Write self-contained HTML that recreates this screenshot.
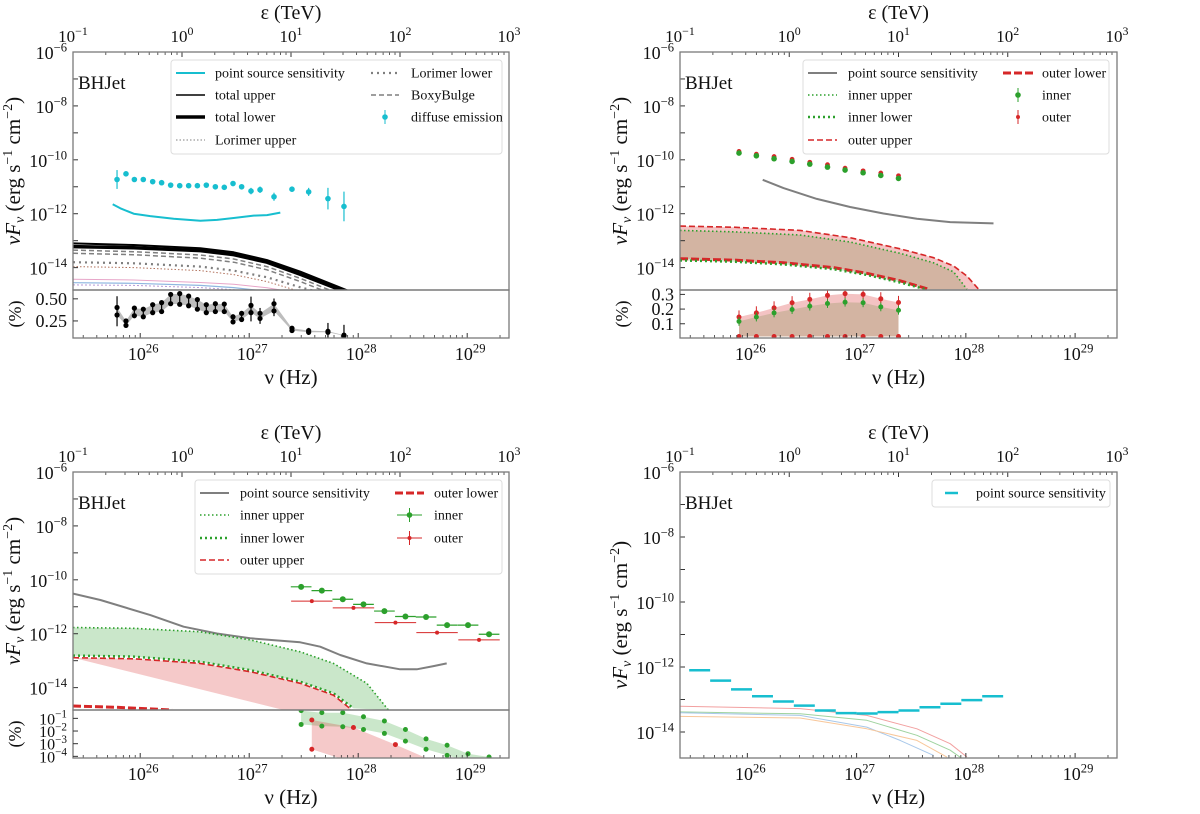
<!DOCTYPE html>
<html><head><meta charset="utf-8">
<style>
body{margin:0;background:#fff}
svg{display:block;font-family:"Liberation Serif",serif}
</style></head>
<body>
<svg id="fig" width="1200" height="814" viewBox="0 0 1200 814"><defs id="defs"></defs></svg>
<script>
// ---------- shared tick data ----------
const eTicks=[-1,0,1,2,3];
const nuTicks=[26,27,28,29];
const yTickLabels=[-6,-8,-10,-12,-14];

// ---------- top-left panel data (log10 E[TeV], log10 F) ----------
const tlDiffE=[-0.596,-0.514,-0.437,-0.355,-0.269,-0.187,-0.104,-0.021,0.061,0.141,0.223,0.306,0.388,0.468,0.547,0.633,0.716,0.844,1.009,1.162,1.339,1.486];
const tlDiffF=[-10.73,-10.52,-10.73,-10.73,-10.81,-10.85,-10.94,-10.96,-10.96,-10.96,-10.94,-11.0,-11.02,-10.88,-11.0,-11.16,-11.11,-11.37,-11.09,-11.19,-11.44,-11.73];
const tlDiffErr=[0.35,0.04,0.04,0.04,0.04,0.04,0.04,0.04,0.04,0.04,0.04,0.04,0.04,0.04,0.04,0.12,0.12,0.15,0.1,0.15,0.4,0.55];
const tlSensE=[-0.636,-0.566,-0.443,-0.291,-0.076,0.168,0.321,0.474,0.657,0.780,0.902];
const tlSensF=[-11.65,-11.80,-12.0,-12.09,-12.19,-12.26,-12.23,-12.16,-12.07,-12.05,-11.96];
const tlModelE=[-1,-0.443,0.168,0.474,0.780,1.086,1.391,1.544];
const tlTotUp=[-13.10,-13.16,-13.28,-13.43,-13.72,-14.15,-14.64,-14.89];
const tlTotLo=[-13.22,-13.26,-13.37,-13.52,-13.80,-14.25,-14.73,-14.95];
const tlBoxA=[-13.35,-13.41,-13.53,-13.68,-13.96,-14.40,-14.89];
const tlBoxB=[-13.47,-13.52,-13.65,-13.80,-14.08,-14.52,-15.0];
const tlLorLoE=[-1,-0.443,0.168,0.474,0.780,1.086,1.300];
const tlLorLo=[-13.80,-13.84,-13.96,-14.11,-14.36,-14.73,-14.95];
const tlLorUpE=[-1,-0.443,0.168,0.474,0.780,1.086];
const tlLorUp=[-13.96,-14.0,-14.11,-14.26,-14.52,-14.89];
const tlFaintE=[-1,-0.443,0.168,0.474,0.780,1.086];
const tlFaintPink=[-14.43,-14.46,-14.55,-14.62,-14.75,-14.95];
const tlFaintBlue=[-14.56,-14.58,-14.66,-14.74,-14.88,-15.1];
const tlFaintPurple=[-14.64,-14.66,-14.74,-14.82,-14.95,-15.2];
const tlRatUp=[0.402,0.25,0.395,0.383,0.434,0.457,0.55,0.559,0.531,0.492,0.434,0.445,0.441,0.297,0.336,0.426,0.336,0.445,0.168,0.141,0.133,0.09];
const tlRatLo=[0.317,0.20,0.309,0.297,0.344,0.356,0.445,0.438,0.422,0.383,0.344,0.356,0.356,0.239,0.266,0.344,0.278,0.363,0.141,0.122,0.122,0.082];
const tlRatErr=[0.17,0.04,0.06,0.06,0.06,0.06,0.06,0.06,0.06,0.06,0.06,0.06,0.06,0.04,0.05,0.14,0.09,0.1,0.02,0.04,0.1,0.12];

// ---------- top-right panel data ----------
const trPtE=[-0.460,-0.301,-0.139,0.026,0.188,0.350,0.511,0.676,0.838,1.0];
const trOuterF=[-9.69,-9.79,-9.88,-9.98,-10.09,-10.18,-10.31,-10.41,-10.49,-10.59];
const trInnerF=[-9.75,-9.85,-9.96,-10.06,-10.16,-10.27,-10.38,-10.48,-10.58,-10.69];
const trSensE=[-0.243,-0.053,0.252,0.557,0.863,1.168,1.473,1.870];
const trSensF=[-10.74,-11.05,-11.45,-11.75,-11.99,-12.19,-12.31,-12.36];
const trOutUpE=[-1,-0.511,0.099,0.557,1.015,1.321,1.504,1.626,1.733];
const trOutUp=[-12.46,-12.50,-12.62,-12.89,-13.30,-13.63,-13.94,-14.31,-14.80];
const trInUpE=[-1,-0.511,0.099,0.557,1.015,1.321,1.504,1.626];
const trInUp=[-12.62,-12.67,-12.79,-13.05,-13.47,-13.82,-14.16,-14.80];
const trOutLoE=[-1,-0.511,-0.053,0.405,0.710,1.015,1.275];
const trOutLo=[-13.67,-13.72,-13.82,-14.0,-14.21,-14.49,-14.80];
const trInLoE=[-1,-0.511,-0.053,0.405,0.710,1.015,1.245];
const trInLo=[-13.73,-13.78,-13.88,-14.06,-14.27,-14.55,-14.80];
const trRatOuter=[0.146,0.174,0.208,0.243,0.266,0.293,0.305,0.30,0.27,0.245];
const trRatInner=[0.116,0.146,0.174,0.197,0.22,0.238,0.247,0.243,0.215,0.192];
const trRatBase=[0.013,0.013,0.013,0.013,0.013,0.013,0.013,0.013,0.013,0.013];

// ---------- bottom-left panel data ----------
const blSensE=[-1,-0.749,-0.291,0.015,0.320,0.626,1.084,1.268,1.451,1.695,2.001,2.154,2.307,2.428];
const blSensF=[-10.51,-10.75,-11.31,-11.74,-11.99,-12.17,-12.32,-12.48,-12.79,-13.10,-13.32,-13.32,-13.20,-13.10];
const blInUpE=[-1,-0.444,0.167,0.626,1.084,1.390,1.695,1.894];
const blInUp=[-11.77,-11.80,-11.93,-12.23,-12.67,-13.10,-13.84,-14.83];
const blInLoE=[-1,-0.444,0.167,0.626,1.084,1.390,1.573];
const blInLo=[-12.81,-12.85,-13.04,-13.35,-13.78,-14.21,-14.77];
const blOutUpE=[-1,-0.444,0.167,0.626,1.084,1.390,1.558];
const blOutUp=[-12.89,-12.93,-13.10,-13.41,-13.84,-14.28,-14.83];
const blOutLoE=[-1,-0.597,-0.092];
const blOutLo=[-14.68,-14.73,-14.83];
const blInnerE=[1.093,1.283,1.475,1.665,1.857,2.050,2.239,2.432,2.624,2.817];
const blInnerF=[-10.26,-10.40,-10.72,-10.91,-11.16,-11.36,-11.38,-11.68,-11.68,-12.02];
const blOuterE=[1.191,1.573,1.958,2.340,2.725];
const blOuterF=[-10.79,-11.04,-11.59,-11.96,-12.23];
const blRatInUp=[-0.39,-0.55,-0.55,-0.87,-1.21,-1.88,-2.62,-3.12,-3.79,-4.05];
const blRatInLo=[-1.48,-1.61,-1.66,-1.88,-2.19,-2.80,-3.44,-3.92,-4.4,-4.6];
const blRatOutE=[1.191,1.573,1.958,2.340];
const blRatOutUp=[-1.13,-1.72,-3.07,-4.5];
const blRatOutLo=[-3.44,-4.5,-4.6,-4.7];

// ---------- bottom-right panel data ----------
const brBinE=[-0.820,-0.628,-0.437,-0.245,-0.054,0.138,0.330,0.521,0.713,0.904,1.096,1.288,1.479,1.671,1.862];
const brBinF=[-12.10,-12.42,-12.69,-12.90,-13.06,-13.19,-13.34,-13.42,-13.43,-13.39,-13.34,-13.24,-13.13,-13.02,-12.90];
const brBinHalf=0.096;
const brPinkE=[-1,0.099,0.71,1.168,1.473,1.626];
const brPink=[-13.21,-13.28,-13.49,-13.9,-14.36,-14.77];
const brGreenE=[-1,0.099,0.71,1.168,1.473,1.595];
const brGreen=[-13.38,-13.44,-13.64,-14.1,-14.56,-14.85];
const brBlueE=[-1,0.099,0.71,1.015,1.321];
const brBlue=[-13.41,-13.49,-13.85,-14.26,-14.72];
const brOrangeE=[-1,0.099,0.71,1.168,1.443];
const brOrange=[-13.52,-13.57,-13.9,-14.26,-14.77];

// ---------- rendering ----------
const NS='http://www.w3.org/2000/svg';
const svg=document.getElementById('fig');
const defs=document.getElementById('defs');
const NU_OFF=26.3835;
const FRAME='#7a7a7a';
const CYAN='#17becf', GREEN='#2ca02c', RED='#d62728', GREY='#7f7f7f';

function mk(tag,attrs,parent){const e=document.createElementNS(NS,tag);for(const k in attrs)e.setAttribute(k,attrs[k]);parent.appendChild(e);return e;}

function makePanel(c){
  c.X=le=>c.left+(le+1)/4*(c.right-c.left);
  c.Y=lf=>c.top+(-6-lf)/(-6-c.fmin)*(c.mainBottom-c.top);
  if(c.ratioBottom){
    c.R=v=>c.ratioBottom-(v-c.rmin)/(c.rmax-c.rmin)*(c.ratioBottom-c.mainBottom);
  }
  const cp=mk('clipPath',{id:c.id+'-clipm'},defs);
  mk('rect',{x:c.left,y:c.top,width:c.right-c.left,height:c.mainBottom-c.top},cp);
  if(c.ratioBottom){
    const cr=mk('clipPath',{id:c.id+'-clipr'},defs);
    mk('rect',{x:c.left,y:c.mainBottom,width:c.right-c.left,height:c.ratioBottom-c.mainBottom},cr);
  }
  const g=mk('g',{},svg);
  
  
  c.g=g;
  c.gm=mk('g',{'clip-path':'url(#'+c.id+'-clipm)'},g);
  
  
  if(c.ratioBottom){
    c.gr=mk('g',{'clip-path':'url(#'+c.id+'-clipr)'},g);
    
    
  }
  return c;
}

function pow(parent,x,y,exp,anchor,size,name){
  const t=mk('text',{x:x,y:y,'text-anchor':anchor,'font-size':size,fill:'#111'},parent);
  
  
  t.appendChild(document.createTextNode('10'));
  const s=mk('tspan',{dy:-size*0.42,'font-size':size*0.7},t);
  s.textContent=String(exp).replace('-','\u2212');
  return t;
}

function axes(c){
  const g=mk('g',{},c.g);
  
  
  const yb=c.ratioBottom||c.mainBottom;
  for(const k of eTicks){
    const x=c.X(k);
    mk('line',{x1:x,x2:x,y1:c.top,y2:c.top+5,stroke:'#333','stroke-width':1},g);
    pow(g,x,c.top-10,k,'middle',17,'top-tick-label');
    if(k<3)for(let m=2;m<10;m++){const xm=c.X(k+Math.log10(m));mk('line',{x1:xm,x2:xm,y1:c.top,y2:c.top+3,stroke:'#333','stroke-width':0.8},g);}
  }
  const et=mk('text',{x:(c.left+c.right)/2,y:c.top-33,'text-anchor':'middle','font-size':20,fill:'#111'},g);
  
  
  et.textContent='\u03b5 (TeV)';
  for(let n=25;n<=29;n++){
    const le=n-NU_OFF;
    if(le>=-1&&le<=3){
      const x=c.X(le);
      mk('line',{x1:x,x2:x,y1:yb-5,y2:yb,stroke:'#333','stroke-width':1},g);
      if(nuTicks.includes(n))pow(g,x+3,yb+22,n,'middle',18,'bottom-tick-label');
    }
    for(let m=2;m<10;m++){const lm=le+Math.log10(m);if(lm>-1&&lm<3){const xm=c.X(lm);mk('line',{x1:xm,x2:xm,y1:yb-3,y2:yb,stroke:'#333','stroke-width':0.8},g);}}
  }
  const nt=mk('text',{x:(c.left+c.right)/2,y:yb+46,'text-anchor':'middle','font-size':21,fill:'#111'},g);
  
  
  nt.textContent='\u03bd (Hz)';
  for(let d=-6;d>=-14;d--){
    const y=c.Y(d);
    mk('line',{x1:c.left,x2:c.left+5,y1:y,y2:y,stroke:'#333','stroke-width':1},g);
  }
  for(const d of yTickLabels){pow(g,c.left-6,c.Y(d)+7,d,'end',18,'y-tick-label');}
  const cy=(c.top+c.mainBottom)/2, cx=c.left-53;
  const yl=mk('text',{x:cx,y:cy,'text-anchor':'middle','font-size':21,fill:'#111',transform:'rotate(-90 '+cx+' '+cy+')'},g);
  
  
  yl.innerHTML='<tspan font-style="italic">\u03bdF</tspan><tspan font-style="italic" font-size="14" dy="4">\u03bd</tspan><tspan dy="-4"> (erg s</tspan><tspan font-size="14" dy="-8">\u22121</tspan><tspan dy="8"> cm</tspan><tspan font-size="14" dy="-8">\u22122</tspan><tspan dy="8">)</tspan>';
  const bh=mk('text',{x:c.left+5,y:c.top+37,'font-size':19,fill:'#111'},g);
  
  
  bh.textContent='BHJet';
  const f1=mk('rect',{x:c.left,y:c.top,width:c.right-c.left,height:c.mainBottom-c.top,fill:'none',stroke:FRAME,'stroke-width':1.3},g);
  
  
  if(c.ratioBottom){
    const f2=mk('rect',{x:c.left,y:c.mainBottom,width:c.right-c.left,height:c.ratioBottom-c.mainBottom,fill:'none',stroke:FRAME,'stroke-width':1.3},g);
    
    
    const rcx=c.left-52, rcy=(c.mainBottom+c.ratioBottom)/2;
    const rl=mk('text',{x:rcx,y:rcy,'text-anchor':'middle','font-size':18,fill:'#111',transform:'rotate(-90 '+rcx+' '+rcy+')'},g);
    
    
    rl.textContent='(%)';
    for(const t of c.rticks){
      const y=c.R(t.v);
      mk('line',{x1:c.left,x2:c.left+5,y1:y,y2:y,stroke:'#333','stroke-width':1},g);
      let tl;
      if(c.rlog){tl=pow(g,c.left-6,y+6,t.v,'end',16,'ratio-tick-label');}
      else{tl=mk('text',{x:c.left-6,y:y+6,'text-anchor':'end','font-size':18,fill:'#111'},g);tl.textContent=t.s;}
    }
  }
}

function pathD(xs,ys,fx,fy){return xs.map((x,i)=>(i?'L':'M')+fx(x).toFixed(1)+' '+fy(ys[i]).toFixed(1)).join(' ');}
function line(parent,xs,ys,fx,fy,stroke,w,dash,name){
  const p=mk('path',{d:pathD(xs,ys,fx,fy),fill:'none',stroke:stroke,'stroke-width':w,'stroke-dasharray':dash||'none','stroke-linejoin':'round'},parent);
  
  
  return p;
}
function band(parent,xu,yu,xl,yl,fx,fy,fill,name){
  let d=pathD(xu,yu,fx,fy);
  for(let i=xl.length-1;i>=0;i--)d+=' L'+fx(xl[i]).toFixed(1)+' '+fy(yl[i]).toFixed(1);
  const p=mk('path',{d:d+' Z',fill:fill,stroke:'none'},parent);
  
  
  return p;
}
function dot(parent,x,y,r,color,name){
  const d=mk('circle',{cx:x,cy:y,r:r,fill:color},parent);
  
  
  return d;
}
function seg(parent,x1,y1,x2,y2,color,w,name){
  const s=mk('line',{x1:x1,y1:y1,x2:x2,y2:y2,stroke:color,'stroke-width':w},parent);
  
  
  return s;
}

function legend(c,box,items){
  const g=mk('g',{},c.g);
  
  
  mk('rect',{x:box[0],y:box[1],width:box[2],height:box[3],rx:3,fill:'#fff','fill-opacity':0.85,stroke:'#ddd','stroke-width':1},g);
  for(const it of items){
    const e=mk('g',{},g);
    
    
    if(it.pt){
      seg(e,(it.x1+it.x2)/2,it.y-7,(it.x1+it.x2)/2,it.y+7,it.color,1,'legend-errorbar');
      if(it.xbar)seg(e,it.x1+2,it.y,it.x2-2,it.y,it.color,1,'legend-errorbar');
      dot(e,(it.x1+it.x2)/2,it.y,it.r||2.8,it.color,'legend-marker');
    } else {
      const s=seg(e,it.x1,it.y,it.x2,it.y,it.color,it.w,'legend-line');
      s.setAttribute('stroke-dasharray',it.dash||'none');
    }
    const t=mk('text',{x:it.tx,y:it.y+4.5,'font-size':14,fill:'#111'},e);
    
    
    t.textContent=it.label;
  }
}

// ===== top-left =====
const TL=makePanel({id:'top-left',left:73,right:509,top:52,mainBottom:290,ratioBottom:338,fmin:-14.83,rmin:0.057,rmax:0.60,rlog:false,rticks:[{v:0.5,s:'0.50'},{v:0.25,s:'0.25'}]});
(function(){
  const c=TL,X=c.X,Y=c.Y,R=c.R,m=c.gm;
  line(m,tlFaintE,tlFaintPink,X,Y,'#e7a6c9',1,'none','faint-model-pink');
  line(m,tlFaintE,tlFaintBlue,X,Y,'#8fb7e0',1.2,'none','faint-model-blue');
  line(m,tlFaintE,tlFaintPurple,X,Y,'#b79ad6',1,'2 2','faint-model-purple');
  line(m,tlLorUpE,tlLorUp,X,Y,'#b0705a',1,'1.5 2','lorimer-upper');
  line(m,tlLorLoE,tlLorLo,X,Y,GREY,2.2,'2 4','lorimer-lower');
  line(m,tlModelE.slice(0,7),tlBoxA,X,Y,GREY,1.5,'5 3','boxybulge-a');
  line(m,tlModelE.slice(0,7),tlBoxB,X,Y,GREY,1.5,'5 3','boxybulge-b');
  line(m,tlModelE,tlTotLo,X,Y,'#000',3.5,'none','total-lower');
  line(m,tlModelE,tlTotUp,X,Y,'#000',2,'none','total-upper');
  line(m,tlSensE,tlSensF,X,Y,CYAN,2,'none','point-source-sensitivity');
  tlDiffE.forEach((e,i)=>{
    seg(m,X(e),Y(tlDiffF[i]+tlDiffErr[i]),X(e),Y(tlDiffF[i]-tlDiffErr[i]),CYAN,1.2,'diffuse-errorbar');
    dot(m,X(e),Y(tlDiffF[i]),2.8,CYAN,'diffuse-point');
  });
  const r=c.gr;
  band(r,tlDiffE,tlRatUp,tlDiffE,tlRatLo,X,R,'#bdbdbd','ratio-band');
  tlDiffE.forEach((e,i)=>{
    const mid=(tlRatUp[i]+tlRatLo[i])/2;
    seg(r,X(e),R(mid+tlRatErr[i]),X(e),R(mid-tlRatErr[i]),'#000',1.2,'ratio-errorbar');
    dot(r,X(e),R(tlRatUp[i]),2.6,'#000','ratio-upper-point');
    dot(r,X(e),R(tlRatLo[i]),2.6,'#000','ratio-lower-point');
  });
  axes(c);
  legend(c,[171,60,331,94],[
    {x1:176,x2:205,y:73,color:CYAN,w:2,label:'point source sensitivity',tx:215},
    {x1:176,x2:205,y:95,color:'#000',w:1.5,label:'total upper',tx:215},
    {x1:176,x2:205,y:117,color:'#000',w:3.5,label:'total lower',tx:215},
    {x1:176,x2:205,y:140,color:GREY,w:1,dash:'1.5 2',label:'Lorimer upper',tx:215},
    {x1:371,x2:399,y:73,color:GREY,w:2.2,dash:'2 4',label:'Lorimer lower',tx:411},
    {x1:371,x2:399,y:95,color:GREY,w:1.5,dash:'5 3',label:'BoxyBulge',tx:411},
    {pt:true,x1:371,x2:399,y:117,color:CYAN,label:'diffuse emission',tx:411}
  ]);
})();

// ===== top-right =====
const TR=makePanel({id:'top-right',left:680,right:1117,top:52,mainBottom:290,ratioBottom:338,fmin:-14.83,rmin:0.003,rmax:0.33,rlog:false,rticks:[{v:0.3,s:'0.3'},{v:0.2,s:'0.2'},{v:0.1,s:'0.1'}]});
(function(){
  const c=TR,X=c.X,Y=c.Y,R=c.R,m=c.gm;
  band(m,trInUpE,trInUp,trInLoE,trInLo,X,Y,'rgba(44,160,44,0.22)','inner-band');
  band(m,trOutUpE,trOutUp,trOutLoE,trOutLo,X,Y,'rgba(214,39,40,0.28)','outer-band');
  line(m,trOutUpE,trOutUp,X,Y,RED,1.6,'6 3','outer-upper');
  line(m,trInUpE,trInUp,X,Y,GREEN,1.6,'1.5 2.5','inner-upper');
  line(m,trOutLoE,trOutLo,X,Y,RED,3,'8 3','outer-lower');
  line(m,trInLoE,trInLo,X,Y,GREEN,2.5,'2 3','inner-lower');
  line(m,trSensE,trSensF,X,Y,GREY,2,'none','point-source-sensitivity');
  trPtE.forEach((e,i)=>{
    seg(m,X(e),Y(trOuterF[i]+0.08),X(e),Y(trOuterF[i]-0.06),RED,1,'outer-errorbar');
    dot(m,X(e),Y(trOuterF[i]),2.4,RED,'outer-point');
    seg(m,X(e),Y(trInnerF[i]+0.05),X(e),Y(trInnerF[i]-0.05),GREEN,1,'inner-errorbar');
    dot(m,X(e),Y(trInnerF[i]),2.8,GREEN,'inner-point');
  });
  const r=c.gr;
  band(r,trPtE,trRatInner,trPtE,trRatBase,X,R,'rgba(44,160,44,0.22)','ratio-inner-band');
  band(r,trPtE,trRatOuter,trPtE,trRatBase,X,R,'rgba(214,39,40,0.28)','ratio-outer-band');
  trPtE.forEach((e,i)=>{
    seg(r,X(e),R(trRatOuter[i]+0.045),X(e),R(trRatOuter[i]-0.03),RED,1,'ratio-outer-errorbar');
    dot(r,X(e),R(trRatOuter[i]),2.5,RED,'ratio-outer-point');
    seg(r,X(e),R(trRatInner[i]+0.03),X(e),R(trRatInner[i]-0.03),GREEN,1,'ratio-inner-errorbar');
    dot(r,X(e),R(trRatInner[i]),2.5,GREEN,'ratio-inner-point');
    dot(r,X(e),R(trRatBase[i]),2.5,RED,'ratio-base-point');
  });
  axes(c);
  legend(c,[803,60,306,94],[
    {x1:808,x2:837,y:73,color:GREY,w:2,label:'point source sensitivity',tx:848},
    {x1:808,x2:837,y:95,color:GREEN,w:1.6,dash:'1.5 2.5',label:'inner upper',tx:848},
    {x1:808,x2:837,y:117,color:GREEN,w:2.5,dash:'2 3',label:'inner lower',tx:848},
    {x1:808,x2:837,y:140,color:RED,w:1.6,dash:'6 3',label:'outer upper',tx:848},
    {x1:1003,x2:1033,y:73,color:RED,w:3,dash:'8 3',label:'outer lower',tx:1042},
    {pt:true,x1:1003,x2:1033,y:95,color:GREEN,label:'inner',tx:1042},
    {pt:true,x1:1003,x2:1033,y:117,color:RED,r:2,label:'outer',tx:1042}
  ]);
})();

// ===== bottom-left =====
const BL=makePanel({id:'bottom-left',left:73,right:509,top:472,mainBottom:710,ratioBottom:758,fmin:-14.83,rmin:-4.13,rmax:-0.34,rlog:true,rticks:[{v:-1},{v:-2},{v:-3},{v:-4}]});
(function(){
  const c=BL,X=c.X,Y=c.Y,R=c.R,m=c.gm;
  band(m,blInUpE,blInUp,blInLoE,blInLo,X,Y,'rgba(44,160,44,0.25)','inner-band');
  band(m,blOutUpE,blOutUp,[1.6,-1],[-15.5,-15.5],X,Y,'rgba(214,39,40,0.25)','outer-band');
  line(m,blSensE,blSensF,X,Y,GREY,2,'none','point-source-sensitivity');
  line(m,blInUpE,blInUp,X,Y,GREEN,1.6,'1.5 2.5','inner-upper');
  line(m,blInLoE,blInLo,X,Y,GREEN,2.5,'2 3','inner-lower');
  line(m,blOutUpE,blOutUp,X,Y,RED,1.6,'6 3','outer-upper');
  line(m,blOutLoE,blOutLo,X,Y,RED,3,'8 3','outer-lower');
  blInnerE.forEach((e,i)=>{
    seg(m,X(e-0.095),Y(blInnerF[i]),X(e+0.095),Y(blInnerF[i]),GREEN,1.2,'inner-xerr');
    seg(m,X(e),Y(blInnerF[i]+0.06),X(e),Y(blInnerF[i]-0.06),GREEN,1.2,'inner-yerr');
    dot(m,X(e),Y(blInnerF[i]),3,GREEN,'inner-point');
  });
  blOuterE.forEach((e,i)=>{
    seg(m,X(e-0.19),Y(blOuterF[i]),X(e+0.19),Y(blOuterF[i]),RED,1,'outer-xerr');
    seg(m,X(e),Y(blOuterF[i]+0.06),X(e),Y(blOuterF[i]-0.06),RED,1,'outer-yerr');
    dot(m,X(e),Y(blOuterF[i]),2,RED,'outer-point');
  });
  const r=c.gr;
  band(r,blInnerE,blRatInUp,blInnerE,blRatInLo,X,R,'rgba(44,160,44,0.25)','ratio-inner-band');
  band(r,blRatOutE,blRatOutUp,blRatOutE,blRatOutLo,X,R,'rgba(214,39,40,0.25)','ratio-outer-band');
  blInnerE.forEach((e,i)=>{
    dot(r,X(e),R(blRatInUp[i]),2.5,GREEN,'ratio-inner-upper');
    dot(r,X(e),R(blRatInLo[i]),2.5,GREEN,'ratio-inner-lower');
  });
  blRatOutE.forEach((e,i)=>{
    dot(r,X(e),R(blRatOutUp[i]),2.5,RED,'ratio-outer-upper');
    dot(r,X(e),R(blRatOutLo[i]),2.5,RED,'ratio-outer-lower');
  });
  axes(c);
  legend(c,[195,480,307,94],[
    {x1:200,x2:229,y:493,color:GREY,w:2,label:'point source sensitivity',tx:240},
    {x1:200,x2:229,y:515,color:GREEN,w:1.6,dash:'1.5 2.5',label:'inner upper',tx:240},
    {x1:200,x2:229,y:538,color:GREEN,w:2.5,dash:'2 3',label:'inner lower',tx:240},
    {x1:200,x2:229,y:560,color:RED,w:1.6,dash:'6 3',label:'outer upper',tx:240},
    {x1:395,x2:424,y:493,color:RED,w:3,dash:'8 3',label:'outer lower',tx:434},
    {pt:true,xbar:true,x1:395,x2:424,y:515,color:GREEN,label:'inner',tx:434},
    {pt:true,xbar:true,x1:395,x2:424,y:538,color:RED,r:2,label:'outer',tx:434}
  ]);
})();

// ===== bottom-right =====
const BR=makePanel({id:'bottom-right',left:680,right:1117,top:472,mainBottom:758,fmin:-14.8});
(function(){
  const c=BR,X=c.X,Y=c.Y,m=c.gm;
  line(m,brPinkE,brPink,X,Y,'#f2a0a0',1,'none','faint-model-red');
  line(m,brGreenE,brGreen,X,Y,'#9fd39f',1,'none','faint-model-green');
  line(m,brBlueE,brBlue,X,Y,'#a8c8ea',1,'none','faint-model-blue');
  line(m,brOrangeE,brOrange,X,Y,'#f8c79a',1,'none','faint-model-orange');
  brBinE.forEach((e,i)=>{
    seg(m,X(e-brBinHalf),Y(brBinF[i]),X(e+brBinHalf),Y(brBinF[i]),CYAN,2.5,'sensitivity-bin');
  });
  axes(c);
  legend(c,[932,480,178,27],[
    {x1:945,x2:958,y:493,color:CYAN,w:2.5,label:'point source sensitivity',tx:976}
  ]);
})();
</script>
</body></html>
